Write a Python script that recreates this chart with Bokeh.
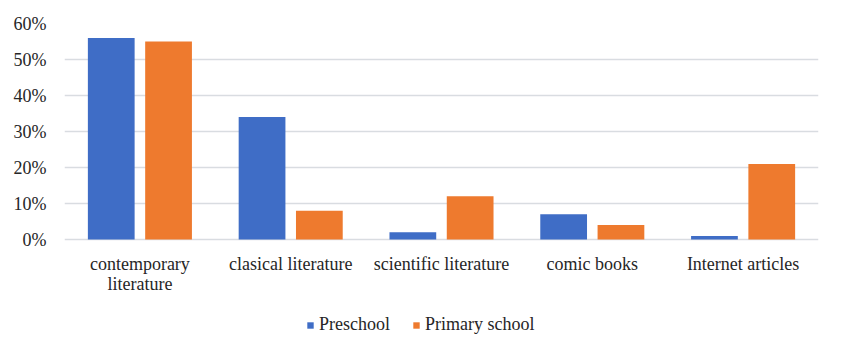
from bokeh.plotting import figure
from bokeh.models import (ColumnDataSource, FactorRange, Range1d, NumeralTickFormatter, Legend,
                          LegendItem, FixedTicker, LabelSet)
from bokeh.transform import dodge
from bokeh.embed import file_html
from bokeh.resources import INLINE

categories = ["contemporary literature", "clasical literature", "scientific literature", "comic books", "Internet articles"]
label_line1 = ["contemporary", "clasical literature", "scientific literature", "comic books", "Internet articles"]
label_line2 = ["literature", "", "", "", ""]
preschool = [0.56, 0.34, 0.02, 0.07, 0.01]
primary = [0.55, 0.08, 0.12, 0.04, 0.21]
y_ticks = [0, 0.1, 0.2, 0.3, 0.4, 0.5, 0.6]

FONT = "Liberation Serif"
TXT = "#262626"
FS = "18px"

W, H = 841, 352
TOP, ZERO_PX = 23, 239          # pixel rows of the 60% and 0% gridlines
Y_MAX = 0.6
y_min = -Y_MAX * (H - ZERO_PX) / (ZERO_PX - TOP)

src = ColumnDataSource(dict(cat=categories, pre=preschool, pri=primary))
lab1 = ColumnDataSource(dict(cat=categories, txt=label_line1))
lab2 = ColumnDataSource(dict(cat=[c for c, t in zip(categories, label_line2) if t],
                             txt=[t for t in label_line2 if t]))

p = figure(width=W, height=H, x_range=FactorRange(*categories), y_range=Range1d(y_min, Y_MAX),
           output_backend="svg", toolbar_location=None,
           min_border_left=64, min_border_right=23, min_border_top=TOP, min_border_bottom=0)
p.outline_line_color = None
p.xaxis.visible = False

r1 = p.vbar(x=dodge("cat", -0.19, range=p.x_range), top="pre", width=0.31, source=src,
            fill_color="#3f6dc6", line_color=None)
r2 = p.vbar(x=dodge("cat", 0.19, range=p.x_range), top="pri", width=0.31, source=src,
            fill_color="#ee7a2e", line_color=None)

p.xgrid.grid_line_color = None
p.ygrid.grid_line_color = "#d9dce1"
p.ygrid.grid_line_width = 1.5
p.ygrid.ticker = FixedTicker(ticks=y_ticks)

p.yaxis.ticker = FixedTicker(ticks=y_ticks)
p.yaxis.formatter = NumeralTickFormatter(format="0%")
p.yaxis.axis_line_color = None
p.yaxis.major_tick_line_color = None
p.yaxis.minor_tick_line_color = None
p.yaxis.major_label_text_font = FONT
p.yaxis.major_label_text_font_size = FS
p.yaxis.major_label_text_color = TXT
p.yaxis.major_label_standoff = 12

common = dict(x="cat", text="txt", y_units="screen", text_font=FONT, text_font_size=FS,
              text_color=TXT, text_align="center", text_baseline="middle")
p.add_layout(LabelSet(source=lab1, y=H - 263, **common))
p.add_layout(LabelSet(source=lab2, y=H - 283, **common))

legend = Legend(items=[LegendItem(label="Preschool", renderers=[r1]),
                       LegendItem(label="Primary school", renderers=[r2])],
                orientation="horizontal", location=(242, H - 335),
                border_line_color=None, background_fill_alpha=0,
                glyph_width=8, glyph_height=8, label_standoff=5, spacing=22,
                label_height=20, padding=0, margin=0,
                label_text_font=FONT, label_text_font_size=FS, label_text_color=TXT)
p.add_layout(legend)

open("out.html", "w").write(file_html(p, INLINE))
